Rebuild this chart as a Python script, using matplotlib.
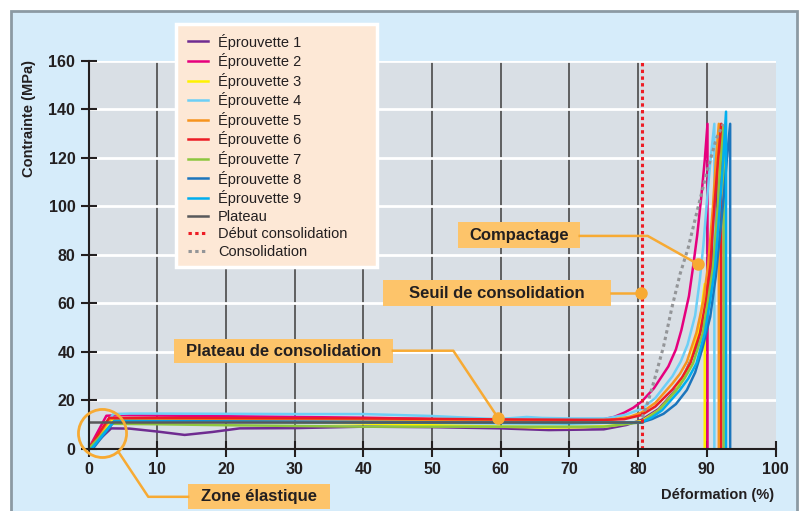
import matplotlib
matplotlib.use("Agg")
import matplotlib.pyplot as plt
from matplotlib.patches import Rectangle, Ellipse

plt.rcParams['font.family'] = ['Liberation Sans', 'DejaVu Sans']

# --- data ---
names = ["Éprouvette 1", "Éprouvette 2", "Éprouvette 3", "Éprouvette 4", "Éprouvette 5",
         "Éprouvette 6", "Éprouvette 7", "Éprouvette 8", "Éprouvette 9"]
colors = ["#6f2c91", "#e6007e", "#fff200", "#6dcff6", "#f7941d",
          "#ed1c24", "#8dc63f", "#1c75bc", "#00aeef"]

ep1_x = [0, 1.6, 3.3, 6, 10, 14, 18, 22, 30, 40, 50, 60, 67, 75, 78.3, 80.5, 83, 86, 88.5, 90.3, 91.2, 92.0, 92.0]
ep1_y = [0, 4, 8.5, 8.4, 7.2, 5.8, 7.0, 8.5, 8.6, 9.2, 9.0, 8.5, 7.8, 8.1, 9.9, 12.0, 16.5, 26, 42, 62, 95, 133, 0]

ep2_x = [0, 2.6, 5, 10, 20, 30, 40, 50, 60, 70, 74.5, 76.5, 78, 79.3, 80.5, 82.3, 84.4, 85.5, 86.3, 87.4, 88.0, 88.6, 89.2, 89.7, 90.1, 90.1]
ep2_y = [0, 13.7, 14.0, 13.8, 13.5, 13.2, 12.9, 12.4, 12.0, 11.8, 12.0, 13.2, 15.0, 17.0, 19.5, 25, 34, 41, 49, 63, 75, 88, 104, 119, 134, 0]

ep3_x = [0, 3.3, 6, 10, 20, 30, 40, 50, 60, 66.7, 72, 76, 80.5, 83, 85.5, 87.5, 88.8, 89.7, 89.7]
ep3_y = [0, 12.0, 12.1, 12.0, 11.6, 11.0, 10.5, 9.8, 9.2, 8.8, 9.0, 9.5, 11.5, 16, 24, 35, 48, 68, 0]

ep4_x = [0, 3.6, 6, 10, 20, 30, 40, 50, 58.9, 61, 63.8, 66, 70, 75.4, 78, 80.5, 82.5, 85, 86.2, 87.2, 88.3, 89.0, 89.5, 90.1, 90.6, 91.1, 91.1]
ep4_y = [0, 14.4, 14.6, 14.6, 14.5, 14.4, 14.4, 13.6, 12.4, 12.6, 13.2, 12.8, 12.6, 12.6, 14, 16.5, 21, 30, 36, 43, 55, 70, 84, 105, 121, 134, 0]

ep5_x = [0, 3.2, 10, 30, 50, 70, 76, 78.8, 80.5, 82.5, 85, 86.1, 87.1, 88.5, 89.5, 90.2, 90.9, 91.3, 91.75, 91.75]
ep5_y = [0, 12.5, 12.5, 12.3, 12.0, 11.7, 12.0, 13.3, 15, 19, 27, 31, 36, 48, 61, 76, 100, 118, 134, 0]

ep6_x = [0, 3.0, 10, 40, 60, 75, 78, 80.5, 82.5, 85, 86.4, 87.6, 89.0, 89.9, 90.5, 91.1, 91.6, 92.1, 92.1]
ep6_y = [0, 12.8, 12.8, 12.6, 12.2, 12.0, 12.3, 14, 17.5, 24.5, 29.5, 35.3, 47.7, 61.4, 75, 100, 118, 134, 0]

ep7_x = [0, 3.4, 10, 20, 40, 60, 75, 80.5, 83, 85.5, 86.8, 88.0, 89.4, 90.2, 90.9, 91.6, 92.0, 92.45, 92.45]
ep7_y = [0, 10.4, 10.2, 9.8, 9.2, 9.2, 9.2, 11, 16, 24, 29.3, 35.3, 47.7, 61.4, 75, 100, 118, 133, 0]

ep8_x = [0, 0.6, 3.8, 10, 30, 50, 70, 80.5, 82, 83.7, 85.5, 87.1, 88.3, 89.3, 90.5, 91.3, 91.8, 92.5, 93.0, 93.4, 93.4]
ep8_y = [0, 0, 11.6, 11.5, 11.3, 11.0, 10.8, 11, 12.3, 14.5, 18.5, 24.3, 31.5, 40.8, 54.5, 71, 85, 105, 122, 134, 0]

ep9_x = [0, 0.4, 3.7, 10, 30, 50, 70, 80.5, 82, 83.5, 86, 87.3, 88.5, 89.7, 90.5, 91.2, 91.9, 92.4, 92.8, 92.8]
ep9_y = [0, 0, 11.4, 11.3, 11.0, 10.8, 10.6, 11, 13, 16, 24, 29, 35.3, 47.7, 61.4, 75, 100, 120, 139, 0]

plateau_x = [0, 80.5]
plateau_y = [11, 11]

debut_x = [80.5, 80.5]
debut_y = [0, 160]

consol_x = [80.6, 81.5, 82.5, 83.7, 84.9, 86.1, 87.3, 88.5, 90.0, 91.4, 92.4]
consol_y = [13, 20, 29.8, 42.2, 58, 72, 83, 97, 114, 128, 134]

xticks = [0, 10, 20, 30, 40, 50, 60, 70, 80, 90, 100]
yticks = [0, 20, 40, 60, 80, 100, 120, 140, 160]

series_x = [ep1_x, ep2_x, ep3_x, ep4_x, ep5_x, ep6_x, ep7_x, ep8_x, ep9_x]
series_y = [ep1_y, ep2_y, ep3_y, ep4_y, ep5_y, ep6_y, ep7_y, ep8_y, ep9_y]

# --- figure ---
W, H = 800, 511
fig = plt.figure(figsize=(8, 5.11), dpi=100)
fig.patch.set_facecolor("white")
fig.patches.append(Rectangle((11 / W, -0.02), 786 / W, 1.02 - 11 / H, transform=fig.transFigure,
                             facecolor="#d6ecfa", edgecolor="#8c9aa3", lw=2, zorder=-1))

ax = fig.add_axes([88.5 / W, 1 - 449 / H, 687 / W, 388.3 / H])
ax.set_facecolor("#d9dfe5")
ax.set_xlim(0, 100)
ax.set_ylim(0, 160)
ax.set_xticks(xticks)
ax.set_yticks(yticks)
ax.set_xticklabels([str(v) for v in xticks], fontweight="bold", fontsize=11.5, color="#231f20")
ax.set_yticklabels([str(v) for v in yticks], fontweight="bold", fontsize=11.5, color="#231f20")
ax.tick_params(direction="inout", length=11, width=1.5, color="#231f20", pad=4)
for s in ["top", "right"]:
    ax.spines[s].set_visible(False)
for s in ["left", "bottom"]:
    ax.spines[s].set_color("#231f20")
    ax.spines[s].set_linewidth(1.5)

ax.set_axisbelow(True)
ax.yaxis.grid(True, color="white", lw=2)
ax.xaxis.grid(True, color="#555555", lw=1.3)
ax.xaxis.get_gridlines()[-1].set_visible(False)

lines = []
for xs, ys, c, n in zip(series_x, series_y, colors, names):
    ln, = ax.plot(xs, ys, color=c, lw=1.8, label=n, solid_joinstyle="round")
    lines.append(ln)
ln, = ax.plot(plateau_x, plateau_y, color="#58595b", lw=1.8, label="Plateau")
lines.append(ln)
ln, = ax.plot(debut_x, debut_y, color="#ed1c24", lw=2.2, ls=(0, (1.1, 1.1)), label="Début consolidation")
lines.append(ln)
ln, = ax.plot(consol_x, consol_y, color="#939598", lw=2.2, ls=(0, (1.1, 1.1)), label="Consolidation")
lines.append(ln)

# axis labels
ax.set_ylabel("Contrainte (MPa)", fontweight="bold", fontsize=10.5, color="#231f20")
ax.yaxis.set_label_coords(-0.076, 0.85)
fig.text(774 / W, 1 - 495 / H, "Déformation (%)", ha="right", va="center",
         fontweight="bold", fontsize=10.5, color="#231f20")

# annotations
box_c = "#fdc46a"
line_c = "#f7aa33"
txt_c = "#231f20"


def label_box(x0, x1, y0, y1, text):
    ax.add_patch(Rectangle((x0, y0), x1 - x0, y1 - y0, facecolor=box_c, edgecolor="none",
                           clip_on=False, zorder=5))
    ax.text((x0 + x1) / 2, (y0 + y1) / 2, text, ha="center", va="center", fontsize=12,
            fontweight="bold", color=txt_c, zorder=6, clip_on=False)


label_box(53.8, 71.5, 82.8, 93.5, "Compactage")
ax.plot([71.5, 81.4, 88.7], [87.8, 87.8, 76.2], color=line_c, lw=1.8, zorder=5)
ax.plot([88.7], [76.2], "o", color=line_c, ms=8, zorder=6)

label_box(42.9, 76.1, 58.9, 69.6, "Seuil de consolidation")
ax.plot([76.1, 80.4], [64.3, 64.3], color=line_c, lw=1.8, zorder=5)
ax.plot([80.4], [64.3], "o", color=line_c, ms=8, zorder=6)

label_box(12.4, 44.3, 35.4, 45.3, "Plateau de consolidation")
ax.plot([44.3, 53.1, 59.6], [40.5, 40.5, 12.9], color=line_c, lw=1.8, zorder=5)
ax.plot([59.6], [12.9], "o", color=line_c, ms=8, zorder=6)

label_box(14.5, 35.2, -24.7, -14.4, "Zone élastique")
ax.plot([4.34, 8.7, 14.5], [-1.1, -19.7, -19.7], color=line_c, lw=1.8, zorder=5, clip_on=False)
ax.add_patch(Ellipse((2.04, 6.4), 7.0, 19.8, facecolor="none", edgecolor=line_c, lw=2,
                     clip_on=False, zorder=6))

# legend
fig.patches.append(Rectangle((176 / W, 1 - 267 / H), 201 / W, 243 / H, transform=fig.transFigure,
                             facecolor="#fde8d6", edgecolor="white", lw=2.5, zorder=1))
leg = fig.legend(handles=lines, loc="upper left", bbox_to_anchor=(188 / W, 1 - 33.5 / H),
                 frameon=False, fontsize=10.5, handlelength=1.37, handletextpad=0.68,
                 labelspacing=0.245, borderpad=0, borderaxespad=0)
leg.set_zorder(2)
for t in leg.get_texts():
    t.set_color(txt_c)

fig.savefig("out.png", dpi=100)
